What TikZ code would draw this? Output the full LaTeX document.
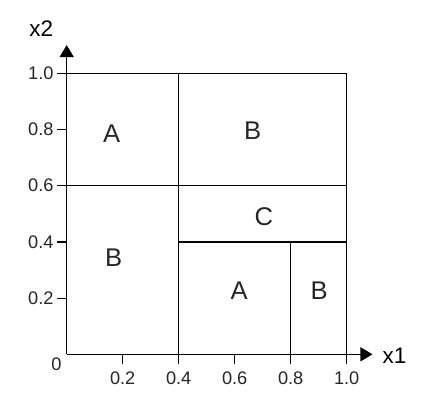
\documentclass[tikz,border=0pt]{standalone}
\usepackage{fontspec}
\setmainfont{Liberation Sans}
\usetikzlibrary{arrows.meta}
\begin{document}
\begin{tikzpicture}[line width = 0.6pt,x=140pt,y=140.5pt,
	region/.style={font=\fontsize{12.8}{14}\selectfont,text=black!85},
	axlab/.style={font=\fontsize{11.25}{13}\selectfont,inner sep=0pt},
	ticklab/.style={font=\fontsize{9.1}{11}\selectfont,text=black!85,inner sep=0pt}]
\useasboundingbox (-0.2382,-0.2018) rectangle (1.2832,1.2609);
% axes
\draw[-{Triangle[length=6pt,width=7pt]}] (0,0) coordinate(O) -- (1.0921,0) coordinate(XT);
\draw[-{Triangle[length=6pt,width=7pt]}] (O) -- (0,1.1007) coordinate(YT);
\node[axlab] (X1) at (1.171,-0.004) {x1};
\node[axlab] (X2) at (-0.091,1.159) {x2};
\node[ticklab] (L0) at (-0.037,-0.035) {0};
\foreach \t in {0.2, 0.4, 0.6, 0.8, 1.0} {
	\draw (\t,0) -- (\t,-0.0357);
	\draw (0,\t) -- (-0.0357,\t);
	\node[ticklab] at (\t,-0.0854) {\t};
	\node[ticklab,anchor=east] at (-0.045,\t) {\t};
}
% partition
\draw (0,1) -- (1,1) -- (1,0);
\draw (0.4,0) -- (0.4,1);
\draw (0,0.6) -- (1,0.6);
\draw (0.4,0.4) -- (1,0.4);
\draw (0.8,0) -- (0.8,0.4);
\node[region] (A1) at (0.161,0.785) {A};
\node[region] (B1) at (0.664,0.795) {B};
\node[region] (C1) at (0.704,0.491) {C};
\node[region] (B2) at (0.168,0.343) {B};
\node[region] (A2) at (0.616,0.226) {A};
\node[region] (B3) at (0.902,0.226) {B};
\end{tikzpicture}
\end{document}
